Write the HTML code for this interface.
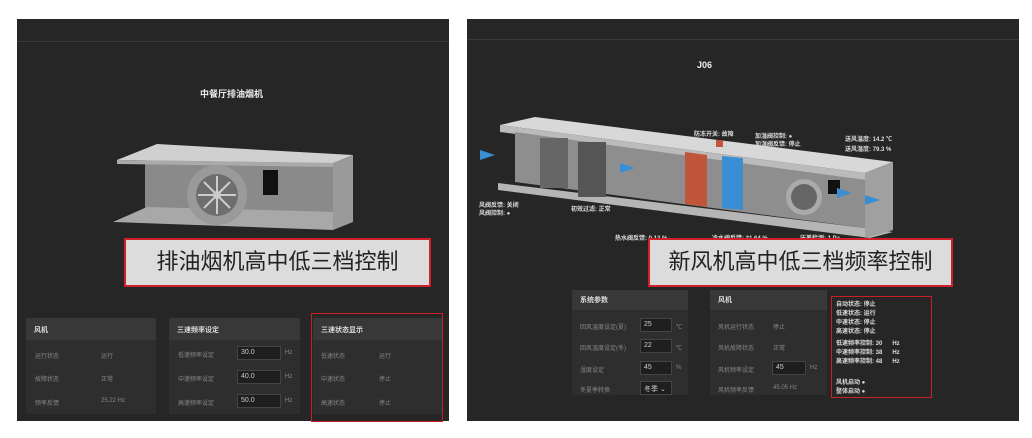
<!DOCTYPE html>
<html><head><meta charset="utf-8"><style>
*{margin:0;padding:0;box-sizing:border-box}
body{width:1032px;height:438px;background:#fff;position:relative;overflow:hidden;font-family:"Liberation Sans","Noto Sans CJK SC",sans-serif}
.a{position:absolute}
.pan{background:#262626}
.line{background:#3a3a3a;height:1px}
.t{color:#eee;font-weight:bold;font-size:9px}
.box{background:#2e2e2e}
.hd{background:#383838;color:#ddd;font-size:7px;font-weight:bold;padding:7px 8px;height:22px}
.sm{color:#888;font-size:6px;position:absolute}
.inp{position:absolute;border:1px solid #444;background:#1e1e1e;color:#ccc;font-size:7px;padding:2px 3px;height:14px}
.lab{background:#dcdcdc;border:2px solid #d0202a;color:#222;font-size:22px;text-align:center}
.red{border:1.5px solid #c8202a}
.w{color:#ddd;font-size:6px;font-weight:bold;position:absolute;white-space:nowrap}
</style></head><body>
<!-- left -->
<div class="a pan" style="left:17px;top:19px;width:432px;height:402px"></div>
<div class="a line" style="left:17px;top:41px;width:432px"></div>
<div class="a t" style="left:200px;top:87px">中餐厅排油烟机</div>
<svg class="a" style="left:0;top:0" width="460" height="300">
<polygon points="145,160 340,160 340,222 145,212" fill="#8a8a8a"/>
<polygon points="117,160 157,144 353,155 333,163" fill="#d0d0d0"/>
<polygon points="117,160 333,163 333,167 117,164" fill="#aaa"/>
<polygon points="113,222 147,207 340,212 333,230" fill="#a8a8a8"/>
<polygon points="333,163 353,155 353,222 333,230" fill="#9a9a9a"/>
<circle cx="217" cy="195" r="30" fill="#9a9a9a"/>
<circle cx="217" cy="195" r="21" fill="#6e6e6e"/>
<circle cx="217" cy="195" r="4" fill="#ccc"/>
<g stroke="#ccc" stroke-width="2"><line x1="217" y1="176" x2="217" y2="214"/><line x1="198" y1="195" x2="236" y2="195"/><line x1="204" y1="182" x2="230" y2="208"/><line x1="204" y1="208" x2="230" y2="182"/></g>
<rect x="263" y="170" width="15" height="25" fill="#111"/>
</svg>
<div class="a lab" style="left:124px;top:238px;width:307px;height:49px;line-height:44px">排油烟机高中低三档控制</div>
<div class="a box" style="left:26px;top:318px;width:130px;height:96px"><div class="hd">风机</div>
<div class="sm" style="left:9px;top:33px">运行状态</div><div class="sm" style="left:75px;top:33px">运行</div>
<div class="sm" style="left:9px;top:56px">故障状态</div><div class="sm" style="left:75px;top:56px">正常</div>
<div class="sm" style="left:9px;top:80px">频率反馈</div><div class="sm" style="left:75px;top:80px">25.22 Hz</div></div>
<div class="a box" style="left:169px;top:318px;width:131px;height:96px"><div class="hd">三速频率设定</div>
<div class="sm" style="left:9px;top:32px">低速频率设定</div><div class="inp" style="left:68px;top:28px;width:44px">30.0</div><div class="sm" style="left:116px;top:32px">Hz</div>
<div class="sm" style="left:9px;top:56px">中速频率设定</div><div class="inp" style="left:68px;top:52px;width:44px">40.0</div><div class="sm" style="left:116px;top:56px">Hz</div>
<div class="sm" style="left:9px;top:80px">高速频率设定</div><div class="inp" style="left:68px;top:76px;width:44px">50.0</div><div class="sm" style="left:116px;top:80px">Hz</div></div>
<div class="a box" style="left:313px;top:318px;width:130px;height:96px"><div class="hd">三速状态显示</div>
<div class="sm" style="left:8px;top:33px">低速状态</div><div class="sm" style="left:66px;top:33px">运行</div>
<div class="sm" style="left:8px;top:56px">中速状态</div><div class="sm" style="left:66px;top:56px">停止</div>
<div class="sm" style="left:8px;top:80px">高速状态</div><div class="sm" style="left:66px;top:80px">停止</div></div>
<div class="a red" style="left:311px;top:313px;width:132px;height:109px"></div>
<!-- right -->
<div class="a pan" style="left:467px;top:19px;width:552px;height:402px"></div>
<div class="a line" style="left:467px;top:39px;width:552px"></div>
<div class="a t" style="left:697px;top:60px">J06</div>
<svg class="a" style="left:460px;top:100px" width="470" height="150">
<polygon points="40,25 75,17 433,62 405,73" fill="#d8d8d8"/>
<polygon points="40,25 405,73 405,80 40,32" fill="#bbb"/>
<polygon points="55,32 405,80 405,128 55,82" fill="#8e8e8e"/>
<polygon points="38,83 405,128 433,132 410,138 38,90" fill="#b5b5b5"/>
<polygon points="405,73 433,62 433,130 405,138" fill="#a0a0a0"/>
<rect x="80" y="38" width="28" height="50" fill="#666"/>
<rect x="118" y="42" width="28" height="55" fill="#555"/>
<polygon points="225,52 247,55 247,107 225,104" fill="#c0553a"/>
<polygon points="262,56 283,58 283,110 262,108" fill="#3a8ed4"/>
<circle cx="344" cy="97" r="18" fill="#aaa"/><circle cx="344" cy="97" r="13" fill="#666"/>
<rect x="368" y="80" width="12" height="14" fill="#111"/>
<rect x="256" y="40" width="7" height="7" fill="#c0553a"/>
<polygon points="20,50 35,55 20,60" fill="#3a8ed4"/><polygon points="160,63 175,68 160,73" fill="#3a8ed4"/>
<polygon points="377,88 392,93 377,98" fill="#3a8ed4"/><polygon points="405,95 420,100 405,105" fill="#3a8ed4"/>
</svg>
<div class="w" style="left:694px;top:129px">防冻开关: 故障</div>
<div class="w" style="left:755px;top:131px">加湿阀控制: ●</div>
<div class="w" style="left:755px;top:139px">加湿阀反馈: 停止</div>
<div class="w" style="left:845px;top:134px">送风温度: 14.2 ℃</div>
<div class="w" style="left:845px;top:144px">送风湿度: 79.3 %</div>
<div class="w" style="left:479px;top:200px">风阀反馈: 关闭</div>
<div class="w" style="left:479px;top:208px">风阀控制: ●</div>
<div class="w" style="left:571px;top:204px">初效过滤: 正常</div>
<div class="w" style="left:615px;top:233px">热水阀反馈: 0.13 %</div>
<div class="w" style="left:712px;top:233px">冷水阀反馈: 31.64 %</div>
<div class="w" style="left:800px;top:233px">压差检测: 1 Pa</div>
<div class="a lab" style="left:648px;top:238px;width:305px;height:49px;line-height:44px">新风机高中低三档频率控制</div>
<div class="a box" style="left:572px;top:290px;width:116px;height:105px"><div class="hd" style="height:20px;padding:5px 8px">系统参数</div>
<div class="sm" style="left:8px;top:32px">回风温度设定(夏)</div><div class="inp" style="left:68px;top:28px;width:32px">25</div><div class="sm" style="left:104px;top:32px">℃</div>
<div class="sm" style="left:8px;top:53px">回风温度设定(冬)</div><div class="inp" style="left:68px;top:49px;width:32px">22</div><div class="sm" style="left:104px;top:53px">℃</div>
<div class="sm" style="left:8px;top:75px">湿度设定</div><div class="inp" style="left:68px;top:71px;width:32px">45</div><div class="sm" style="left:104px;top:75px">%</div>
<div class="sm" style="left:8px;top:95px">冬夏季转换</div><div class="inp" style="left:68px;top:91px;width:32px">冬季 ⌄</div></div>
<div class="a box" style="left:710px;top:290px;width:117px;height:105px"><div class="hd" style="height:20px;padding:5px 8px">风机</div>
<div class="sm" style="left:8px;top:32px">风机运行状态</div><div class="sm" style="left:63px;top:32px">停止</div>
<div class="sm" style="left:8px;top:53px">风机故障状态</div><div class="sm" style="left:63px;top:53px">正常</div>
<div class="sm" style="left:8px;top:75px">风机频率设定</div><div class="inp" style="left:62px;top:71px;width:34px">45</div><div class="sm" style="left:100px;top:75px">Hz</div>
<div class="sm" style="left:8px;top:95px">风机频率反馈</div><div class="sm" style="left:63px;top:95px">45.05 Hz</div></div>
<div class="a red" style="left:831px;top:296px;width:101px;height:102px"></div>
<div class="w" style="left:836px;top:299px">自动状态: 停止</div>
<div class="w" style="left:836px;top:308px">低速状态: 运行</div>
<div class="w" style="left:836px;top:317px">中速状态: 停止</div>
<div class="w" style="left:836px;top:326px">高速状态: 停止</div>
<div class="w" style="left:836px;top:338px">低速频率控制: 30 &nbsp;&nbsp;&nbsp;&nbsp; Hz</div>
<div class="w" style="left:836px;top:347px">中速频率控制: 38 &nbsp;&nbsp;&nbsp;&nbsp; Hz</div>
<div class="w" style="left:836px;top:356px">高速频率控制: 48 &nbsp;&nbsp;&nbsp;&nbsp; Hz</div>
<div class="w" style="left:836px;top:377px">风机启动 ●</div>
<div class="w" style="left:836px;top:386px">整体启动 ●</div>
</body></html>
